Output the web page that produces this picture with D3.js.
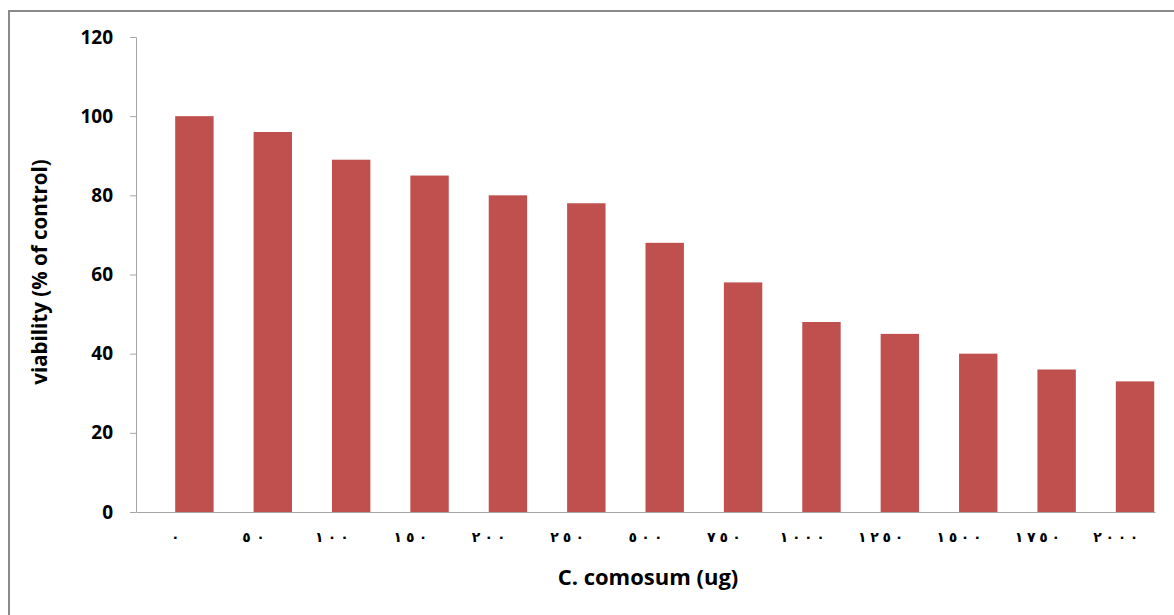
<!DOCTYPE html>
<html><head><meta charset="utf-8">
<script src="https://cdn.jsdelivr.net/npm/d3@7"></script>
<style>
body{margin:0;background:#fff;}
svg{display:block;}
</style></head>
<body>
<svg id="chart" width="1174" height="615"></svg>
<script>
const categories = ["٠","٥٠","١٠٠","١٥٠","٢٠٠","٢٥٠","٥٠٠","٧٥٠","١٠٠٠","١٢٥٠","١٥٠٠","١٧٥٠","٢٠٠٠"];
const viability = [100, 96, 89, 85, 80, 78, 68, 58, 48, 45, 40, 36, 33];
const yTicks = [0, 20, 40, 60, 80, 100, 120];

const svg = d3.select("#chart");
svg.append("rect").attr("x", 9).attr("y", 11).attr("width", 1180).attr("height", 620)
  .attr("fill", "#fff").attr("stroke", "#8a8a8a").attr("stroke-width", 2);

const x = d3.scaleBand().domain(categories).range([136, 1155]).padding(0);
const y = d3.scaleLinear().domain([0, 120]).range([512, 37]);

// bars
const bw = x.bandwidth();
svg.append("g").selectAll("rect").data(viability).join("rect")
  .attr("x", (d, i) => x(categories[i]) + bw * 0.5)
  .attr("width", bw * 0.49)
  .attr("y", d => y(d))
  .attr("height", d => y(0) - y(d))
  .attr("fill", "#c0504d");

// y axis
const yAxis = d3.axisLeft(y).tickValues(yTicks).tickSize(6).tickPadding(17);
const gy = svg.append("g").attr("transform", "translate(136,0)").call(yAxis);
gy.select(".domain").attr("stroke", "#a6a6a6").attr("d", "M-6,37.5H0.5V512.5");
gy.selectAll(".tick line").attr("stroke", "#a6a6a6");
gy.selectAll(".tick text").attr("fill", "#000").style("font-family", "'Open Sans', 'Liberation Sans', sans-serif")
  .style("font-size", "19px").style("font-weight", "bold");

// x axis
const xAxis = d3.axisBottom(x).tickSize(0).tickPadding(20);
const gx = svg.append("g").attr("transform", "translate(0,512)").call(xAxis);
gx.select(".domain").attr("stroke", "#a6a6a6");
gx.selectAll(".tick text").attr("fill", "#000").style("font-family", "'DejaVu Sans', sans-serif")
  .style("font-size", "14px").style("font-weight", "bold")
  .each(function(d) {
    const n = Array.from(d).length;
    if (n > 1) d3.select(this).attr("textLength", n * 11.3).attr("lengthAdjust", "spacing");
  });

// titles
svg.append("text").attr("x", 648).attr("y", 585).attr("text-anchor", "middle")
  .style("font-family", "'Open Sans', 'Liberation Sans', sans-serif").style("font-size", "22px").style("font-weight", "bold")
  .text("C. comosum (ug)");
svg.append("text").attr("transform", "translate(47,272) rotate(-90)").attr("text-anchor", "middle")
  .style("font-family", "'Open Sans', 'Liberation Sans', sans-serif").style("font-size", "20.5px").style("font-weight", "bold")
  .text("viability (% of control)");
</script>
</body></html>
